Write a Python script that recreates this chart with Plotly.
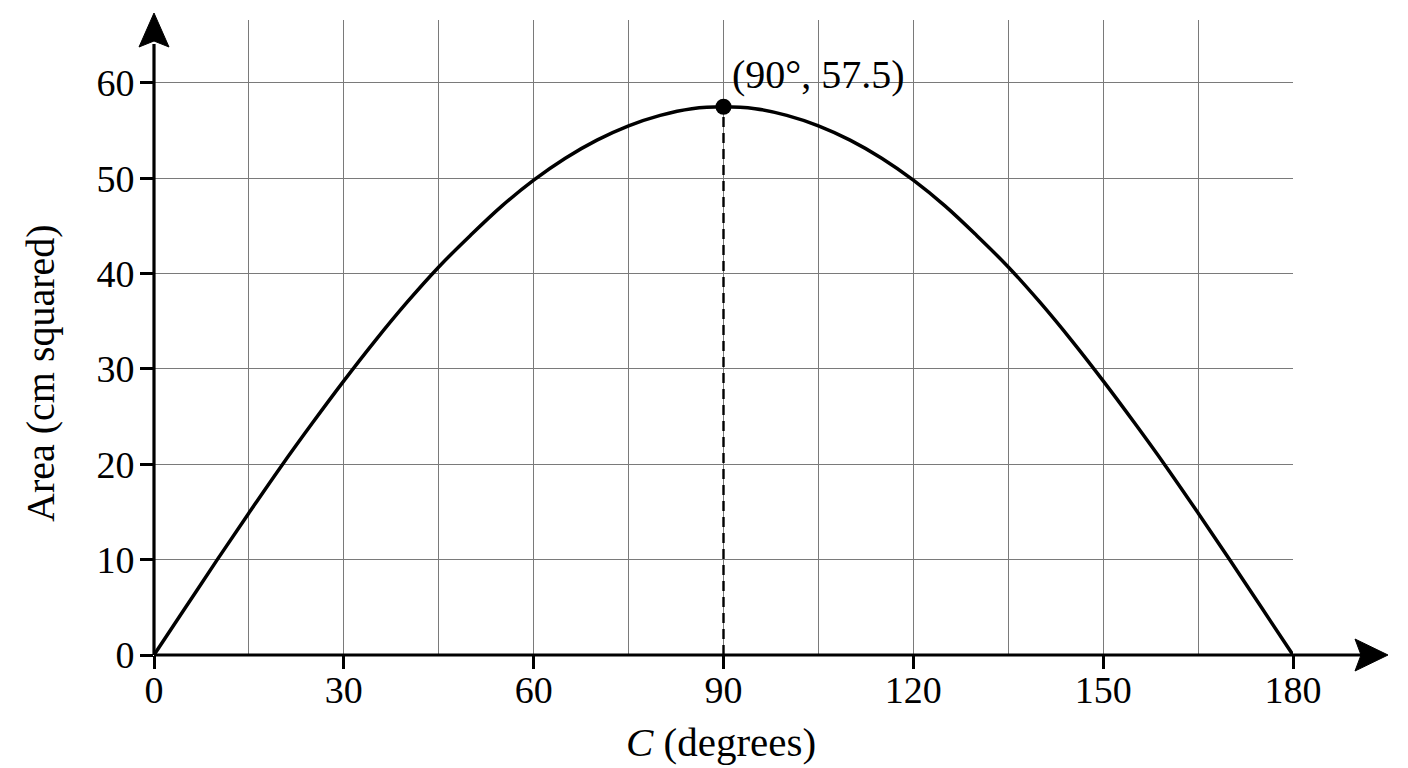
import plotly.graph_objects as go

# =========================================================
# DATA
# =========================================================
angle_deg = [0, 5, 10, 15, 20, 25, 30, 35, 40, 45, 50, 55, 60, 65, 70, 75, 80, 85, 90,
             95, 100, 105, 110, 115, 120, 125, 130, 135, 140, 145, 150, 155, 160, 165,
             170, 175, 180]
area_cm2 = [0, 5.0, 10.0, 14.9, 19.7, 24.3, 28.75, 33.0, 37.0, 40.7, 44.0, 47.1, 49.8,
            52.1, 54.0, 55.5, 56.6, 57.3, 57.5,
            57.3, 56.6, 55.5, 54.0, 52.1, 49.8, 47.1, 44.0, 40.7, 37.0, 33.0, 28.75,
            24.3, 19.7, 14.9, 10.0, 5.0, 0]

peak_x = [90]
peak_y = [57.5]
peak_label = "(90°, 57.5)"

x_ticks = [0, 30, 60, 90, 120, 150, 180]
y_ticks = [0, 10, 20, 30, 40, 50, 60]

# =========================================================
# STYLE
# =========================================================
# page body has an 8px margin, so the figure sits 8px in from the corner
W, H = 1392, 760
L, R, T, B = 146, 107, 12, 113
FONT = "Liberation Serif"
GRID = "#7a7a7a"
Y_MAX = 66.6


# helpers: reference-picture pixels -> paper coords
def px(x):
    return (x - 154) / 1139


def py(y):
    return (655 - y) / 635


fig = go.Figure()

# curve
fig.add_trace(go.Scatter(
    x=angle_deg, y=area_cm2, mode="lines",
    line=dict(color="black", width=3.5, shape="spline"),
    hoverinfo="skip", showlegend=False
))

# dashed drop line + peak point
fig.add_trace(go.Scatter(
    x=[peak_x[0], peak_x[0]], y=[0, peak_y[0]], mode="lines",
    line=dict(color="black", width=2.4, dash="10px,6px"),
    hoverinfo="skip", showlegend=False
))
fig.add_trace(go.Scatter(
    x=peak_x, y=peak_y, mode="markers",
    marker=dict(color="black", size=16),
    hoverinfo="skip", showlegend=False
))

fig.add_annotation(
    x=peak_x[0], y=peak_y[0], text=peak_label, showarrow=False,
    xanchor="left", yanchor="middle", xshift=6, yshift=32,
    font=dict(family=FONT, size=40, color="black")
)

# axis titles
fig.add_annotation(
    xref="paper", yref="paper", x=px(721), y=py(742),
    xanchor="center", yanchor="middle",
    text="<i>C</i> (degrees)", showarrow=False,
    font=dict(family=FONT, size=41, color="black")
)
fig.add_annotation(
    xref="paper", yref="paper", x=px(40), y=py(373),
    xanchor="center", yanchor="middle",
    text="Area (cm squared)", showarrow=False, textangle=-90,
    font=dict(family=FONT, size=40, color="black")
)

# axes with arrowheads
shapes = [
    dict(type="line", xref="paper", yref="paper",
         x0=px(154), y0=py(655), x1=px(154), y1=py(44),
         line=dict(color="black", width=3.2)),
    dict(type="line", xref="paper", yref="paper",
         x0=px(154), y0=py(655), x1=px(1365), y1=py(655),
         line=dict(color="black", width=3.2)),
    dict(type="path", xref="paper", yref="paper",
         path=(f"M {px(154)} {py(13)} L {px(139)} {py(47)} L {px(154)} {py(41)} "
               f"L {px(169)} {py(47)} Z"),
         fillcolor="black", line=dict(color="black", width=1)),
    dict(type="path", xref="paper", yref="paper",
         path=(f"M {px(1388)} {py(655)} L {px(1355)} {py(639)} L {px(1361)} {py(655)} "
               f"L {px(1355)} {py(671)} Z"),
         fillcolor="black", line=dict(color="black", width=1)),
]

fig.update_layout(
    width=W, height=H,
    paper_bgcolor="white", plot_bgcolor="white",
    margin=dict(l=L, r=R, t=T, b=B, autoexpand=False),
    font=dict(family=FONT, size=38, color="black"),
    shapes=shapes,
    showlegend=False,
)

fig.update_xaxes(
    range=[0, 180], tickvals=x_ticks, ticks="outside", ticklen=13,
    tickwidth=3, tickcolor="black", showgrid=True, gridcolor=GRID, gridwidth=1,
    minor=dict(dtick=15, tick0=0, showgrid=True, gridcolor=GRID, gridwidth=1, ticks=""),
    zeroline=False, showline=False, tickfont=dict(family=FONT, size=38),
    ticklabelstandoff=-12, fixedrange=True
)
fig.update_yaxes(
    range=[0, Y_MAX], tickvals=y_ticks, ticks="outside", ticklen=13,
    tickwidth=3, tickcolor="black", showgrid=True, gridcolor=GRID, gridwidth=1,
    zeroline=False, showline=False, tickfont=dict(family=FONT, size=38),
    ticklabelstandoff=-2, fixedrange=True
)

fig.write_html("out.html")
